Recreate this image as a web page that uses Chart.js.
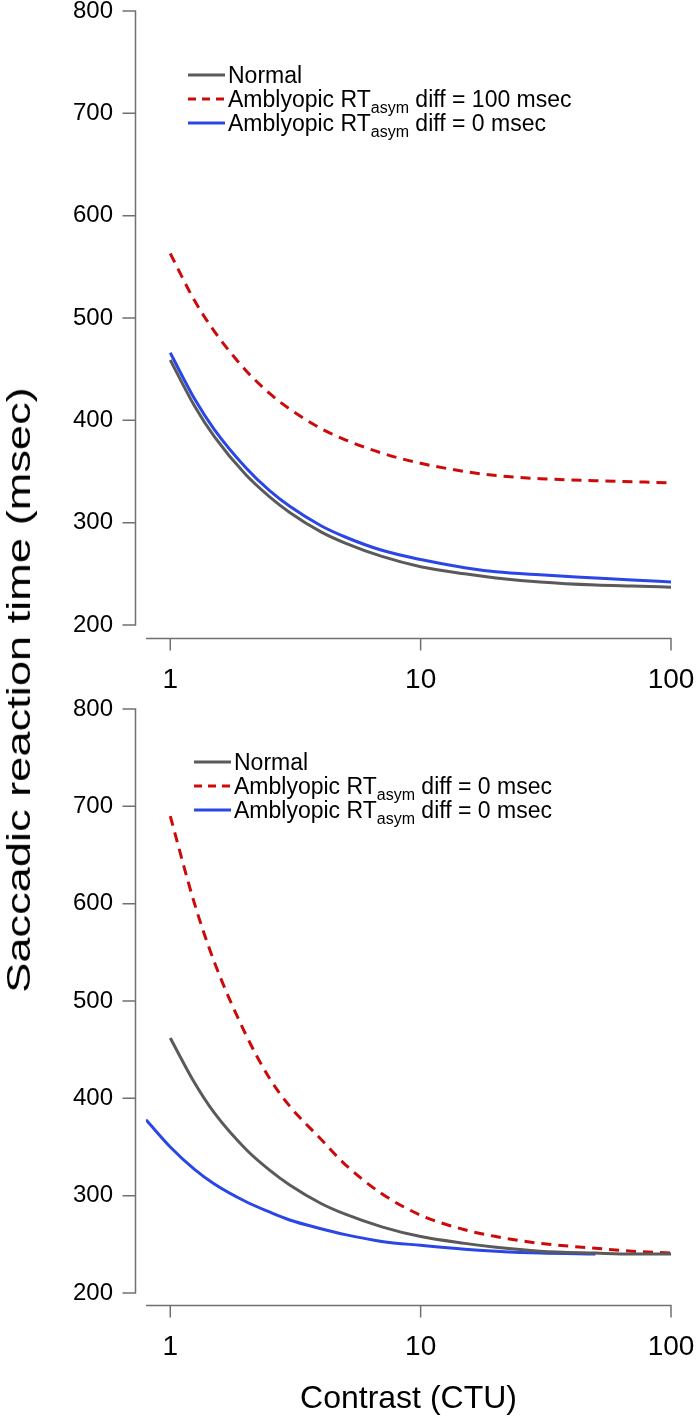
<!DOCTYPE html>
<html><head><meta charset="utf-8">
<script src="https://cdn.jsdelivr.net/npm/chart.js@4.4.1/dist/chart.umd.min.js"></script>
<style>
html,body{margin:0;padding:0;background:#fff;}
#wrap{position:relative;width:696px;height:1420px;overflow:hidden;font-family:"Liberation Sans",Arial,sans-serif;color:#000;}
#c1{position:absolute;left:0;top:0;}
#c2{position:absolute;left:0;top:698px;}
.ytitle{position:absolute;left:18px;top:690px;transform:translate(-50%,-50%) rotate(-90deg) scaleX(1.33);white-space:nowrap;font-size:34px;line-height:1;}
.legend{position:absolute;font-size:23px;line-height:1;}
.legend .row{height:24px;display:flex;align-items:center;white-space:nowrap;}
.legend svg{display:block;margin-right:3px;}
.legend sub{font-size:16px;vertical-align:-6px;line-height:0;}
</style></head>
<body>
<div id="wrap">
  <canvas id="c1" width="696" height="700" style="width:696px;height:700px"></canvas>
  <canvas id="c2" width="696" height="722" style="width:696px;height:722px"></canvas>
  <div class="ytitle">Saccadic reaction time (msec)</div>
  <div class="legend" id="leg1" style="left:188px;top:63px"></div>
  <div class="legend" id="leg2" style="left:194px;top:750px"></div>
</div>
<script>
// ---- data ----
const xTickValues = [1, 10, 100];
const yTickValues = [200, 300, 400, 500, 600, 700, 800];

const contrastTop = [1, 1.25, 1.5, 2, 2.5, 3, 4, 5, 7, 10, 15, 20, 30, 50, 70, 100];
const normalTop   = [459, 414, 384, 347, 325, 310, 291, 280, 267, 257, 250, 246, 242, 239, 238, 237];
const ambly100Top = [563, 517, 487, 449, 426, 411, 392, 381, 368, 358, 350, 346, 343, 341, 340, 339];
const ambly0Top   = [466, 421, 391, 354, 331, 316, 297, 286, 273, 264, 256, 252, 249, 246, 244, 242];

const contrastBot = [1, 1.25, 1.5, 2, 2.5, 3, 4, 5, 7, 10, 15, 20, 30, 50, 70, 100];
const normalBot   = [462, 416, 385, 348, 326, 311, 292, 281, 268, 258, 251, 247, 243, 241, 240, 240];
const amblyRedBot = [690, 600, 540, 466, 420, 392, 358, 332, 302, 280, 265, 258, 251, 246, 243, 241];
const contrastBlueBot = [0.8, 1, 1.25, 1.5, 2, 2.5, 3, 4, 5, 7, 10, 15, 20, 30, 50];
const amblyBlueBot    = [378, 350, 327, 312, 294, 283, 275, 266, 260, 253, 249, 245, 243, 241, 240];

const legendTop = ['Normal', 'Amblyopic RT<sub>asym</sub> diff = 100 msec', 'Amblyopic RT<sub>asym</sub> diff = 0 msec'];
const legendBot = ['Normal', 'Amblyopic RT<sub>asym</sub> diff = 0 msec', 'Amblyopic RT<sub>asym</sub> diff = 0 msec'];

// ---- styles ----
const GRAY = '#5a5a5a', RED = '#cc0a0a', BLUE = '#2a46e6', AXIS = '#707070', CLEAR = 'rgba(0,0,0,0)';
const FONT = '"Liberation Sans", Arial, sans-serif';

function pts(xs, ys) { return xs.map((x, i) => ({ x: x, y: ys[i] })); }

function ds(label, xs, ys, color, dash) {
  return { label, data: pts(xs, ys), borderColor: color, borderWidth: 3, borderDash: dash || [],
    pointRadius: 0, fill: false, cubicInterpolationMode: 'monotone', borderCapStyle: 'butt' };
}

// detached axes: y axis line sits 10px left of the plot, x axis line at the plot bottom
const detachedAxes = {
  id: 'detachedAxes',
  afterDraw(chart) {
    const y = chart.scales.y, x = chart.scales.x, ctx = chart.ctx, a = chart.chartArea;
    const x0 = a.left - 10.5;
    const yb = a.bottom + 0.5;
    ctx.save();
    ctx.strokeStyle = AXIS; ctx.lineWidth = 1.5;
    ctx.beginPath();
    ctx.moveTo(x0, y.getPixelForValue(yTickValues[0]));
    ctx.lineTo(x0, y.getPixelForValue(yTickValues[yTickValues.length - 1]));
    yTickValues.forEach(v => { const p = y.getPixelForValue(v); ctx.moveTo(x0 - 13, p); ctx.lineTo(x0 + 0.75, p); });
    ctx.moveTo(a.left, yb); ctx.lineTo(a.right, yb);
    xTickValues.forEach(v => { const p = x.getPixelForValue(v); ctx.moveTo(p, yb - 0.75); ctx.lineTo(p, yb + 12); });
    ctx.stroke();
    ctx.restore();
  }
};

function makeChart(id, datasets, yMin, xScaleHeight, withTitle) {
  return new Chart(document.getElementById(id), {
    type: 'line',
    data: { datasets },
    plugins: [detachedAxes],
    options: {
      responsive: false, animation: false, events: [],
      layout: { padding: { top: 11, right: 25, left: 0, bottom: 0 }, autoPadding: false },
      plugins: { legend: { display: false }, tooltip: { enabled: false } },
      scales: {
        x: {
          type: 'logarithmic', min: 0.8, max: 100, position: 'bottom',
          afterBuildTicks: s => { s.ticks = xTickValues.map(v => ({ value: v })); },
          afterFit: s => { s.height = xScaleHeight; },
          ticks: { callback: v => String(v), color: '#000', autoSkip: false, maxRotation: 0, padding: 0,
                   font: { family: FONT, size: 28, lineHeight: 1 } },
          grid: { display: true, drawOnChartArea: false, drawTicks: true, tickLength: 28, color: CLEAR },
          border: { display: false },
          title: withTitle ? { display: true, text: 'Contrast (CTU)', color: '#000',
                   font: { family: FONT, size: 32, lineHeight: 1.2 }, padding: { top: 0, bottom: 2 } } : { display: false }
        },
        y: {
          type: 'linear', min: yMin, max: 800,
          afterBuildTicks: s => { s.ticks = yTickValues.map(v => ({ value: v })); },
          afterFit: s => { s.width = 146; },
          ticks: { color: '#000', padding: 0, font: { family: FONT, size: 24, lineHeight: 0.9 } },
          grid: { display: true, drawOnChartArea: false, drawTicks: true, tickLength: 33, color: CLEAR },
          border: { display: false }
        }
      }
    }
  });
}

makeChart('c1', [
  ds('Normal', contrastTop, normalTop, GRAY),
  ds('Amblyopic RTasym diff = 100 msec', contrastTop, ambly100Top, RED, [10, 7]),
  ds('Amblyopic RTasym diff = 0 msec', contrastTop, ambly0Top, BLUE)
], 187.3, 62, false);

makeChart('c2', [
  ds('Normal', contrastBot, normalBot, GRAY),
  ds('Amblyopic RTasym diff = 0 msec', contrastBot, amblyRedBot, RED, [10, 7]),
  ds('Amblyopic RTasym diff = 0 msec', contrastBlueBot, amblyBlueBot, BLUE)
], 187.7, 115, true);

function sample(color, dash) {
  return '<svg width="37" height="6"><line x1="0" y1="3" x2="37" y2="3" stroke="' + color +
    '" stroke-width="3"' + (dash ? ' stroke-dasharray="' + dash + '"' : '') + '/></svg>';
}
function buildLegend(id, labels) {
  const styles = [[GRAY, ''], [RED, '8,6'], [BLUE, '']];
  document.getElementById(id).innerHTML = labels.map((t, i) =>
    '<div class="row">' + sample(styles[i][0], styles[i][1]) + '<span>' + t + '</span></div>').join('');
}
buildLegend('leg1', legendTop);
buildLegend('leg2', legendBot);
</script>
</body></html>
